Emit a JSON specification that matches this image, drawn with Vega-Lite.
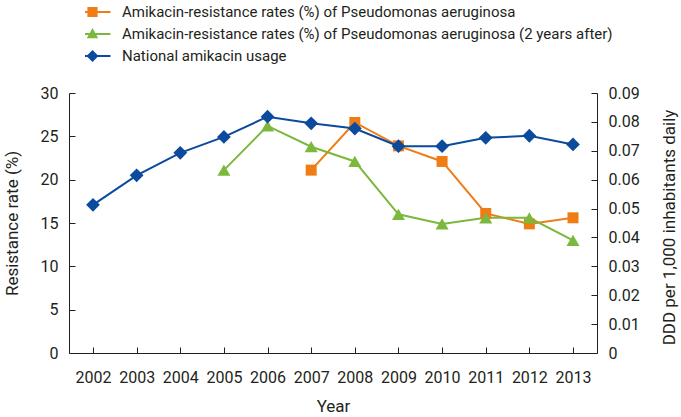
{
  "$schema": "https://vega.github.io/schema/vega-lite/v6.json",
  "width": 528,
  "height": 260,
  "autosize": "none",
  "padding": {"left": 69, "top": 93, "right": 84, "bottom": 64},
  "background": "white",
  "config": {
    "font": "Roboto, sans-serif",
    "view": {"stroke": null},
    "axis": {
      "grid": false,
      "domainColor": "#231f20",
      "domainWidth": 1,
      "tickColor": "#231f20",
      "tickSize": -6,
      "labelColor": "#231f20",
      "labelFontSize": 16,
      "titleColor": "#231f20",
      "titleFontSize": 17,
      "titleFontWeight": "normal"
    },
    "legend": {
      "orient": "none",
      "legendX": 16,
      "legendY": -92,
      "title": null,
      "symbolSize": 144,
      "symbolStrokeWidth": 0,
      "symbolOpacity": 1,
      "labelOffset": 22,
      "labelFontSize": 15,
      "labelColor": "#231f20",
      "labelLimit": 700,
      "rowPadding": 0,
      "clipHeight": 22
    }
  },
  "data": {
    "values": [
      {"year": "2002", "series": "National amikacin usage", "value": 0.0513},
      {"year": "2003", "series": "National amikacin usage", "value": 0.0615},
      {"year": "2004", "series": "National amikacin usage", "value": 0.0693},
      {"year": "2005", "series": "National amikacin usage", "value": 0.0748},
      {"year": "2006", "series": "National amikacin usage", "value": 0.0818},
      {"year": "2007", "series": "National amikacin usage", "value": 0.0795},
      {"year": "2008", "series": "National amikacin usage", "value": 0.0777},
      {"year": "2009", "series": "National amikacin usage", "value": 0.0716},
      {"year": "2010", "series": "National amikacin usage", "value": 0.0716},
      {"year": "2011", "series": "National amikacin usage", "value": 0.0745},
      {"year": "2012", "series": "National amikacin usage", "value": 0.0752},
      {"year": "2013", "series": "National amikacin usage", "value": 0.0722},
      {"year": "2007", "series": "Amikacin-resistance rates (%) of Pseudomonas aeruginosa", "value": 21.1},
      {"year": "2008", "series": "Amikacin-resistance rates (%) of Pseudomonas aeruginosa", "value": 26.6},
      {"year": "2009", "series": "Amikacin-resistance rates (%) of Pseudomonas aeruginosa", "value": 23.9},
      {"year": "2010", "series": "Amikacin-resistance rates (%) of Pseudomonas aeruginosa", "value": 22.1},
      {"year": "2011", "series": "Amikacin-resistance rates (%) of Pseudomonas aeruginosa", "value": 16.1},
      {"year": "2012", "series": "Amikacin-resistance rates (%) of Pseudomonas aeruginosa", "value": 14.9},
      {"year": "2013", "series": "Amikacin-resistance rates (%) of Pseudomonas aeruginosa", "value": 15.6},
      {"year": "2005", "series": "Amikacin-resistance rates (%) of Pseudomonas aeruginosa (2 years after)", "value": 21.1},
      {"year": "2006", "series": "Amikacin-resistance rates (%) of Pseudomonas aeruginosa (2 years after)", "value": 26.2},
      {"year": "2007", "series": "Amikacin-resistance rates (%) of Pseudomonas aeruginosa (2 years after)", "value": 23.8},
      {"year": "2008", "series": "Amikacin-resistance rates (%) of Pseudomonas aeruginosa (2 years after)", "value": 22.1},
      {"year": "2009", "series": "Amikacin-resistance rates (%) of Pseudomonas aeruginosa (2 years after)", "value": 16.0},
      {"year": "2010", "series": "Amikacin-resistance rates (%) of Pseudomonas aeruginosa (2 years after)", "value": 14.9},
      {"year": "2011", "series": "Amikacin-resistance rates (%) of Pseudomonas aeruginosa (2 years after)", "value": 15.6},
      {"year": "2012", "series": "Amikacin-resistance rates (%) of Pseudomonas aeruginosa (2 years after)", "value": 15.6},
      {"year": "2013", "series": "Amikacin-resistance rates (%) of Pseudomonas aeruginosa (2 years after)", "value": 13.0}
    ]
  },
  "encoding": {
    "x": {
      "field": "year",
      "type": "ordinal",
      "scale": {"type": "point", "padding": 0.55},
      "axis": {"title": "Year", "labelAngle": 0, "labelPadding": 22, "titleX": 264, "titleY": 53, "titleBaseline": "middle"}
    }
  },
  "layer": [
    {
      "transform": [{"filter": "datum.series != 'National amikacin usage'"}],
      "encoding": {
        "y": {
          "field": "value",
          "type": "quantitative",
          "scale": {"domain": [0, 30]},
          "axis": {"title": "Resistance rate (%)", "values": [0, 5, 10, 15, 20, 25, 30], "labelPadding": 17, "titleX": -57, "titleY": 130, "titleBaseline": "middle", "titleAngle": -90}
        }
      },
      "layer": [
        {
          "mark": {"type": "line", "strokeWidth": 2},
          "encoding": {
            "stroke": {
              "field": "series",
              "type": "nominal",
              "scale": {
                "domain": ["Amikacin-resistance rates (%) of Pseudomonas aeruginosa", "Amikacin-resistance rates (%) of Pseudomonas aeruginosa (2 years after)", "National amikacin usage"],
                "range": ["#ef7d16", "#7bb83d", "#0b4a9c"]
              }
            }
          }
        },
        {
          "mark": {"type": "point", "filled": true, "opacity": 0, "strokeWidth": 0},
          "encoding": {
            "fill": {
              "field": "series",
              "type": "nominal",
              "scale": {
                "domain": ["Amikacin-resistance rates (%) of Pseudomonas aeruginosa", "Amikacin-resistance rates (%) of Pseudomonas aeruginosa (2 years after)", "National amikacin usage"],
                "range": ["#ef7d16", "#7bb83d", "#0b4a9c"]
              }
            },
            "shape": {
              "field": "series",
              "type": "nominal",
              "scale": {
                "domain": ["Amikacin-resistance rates (%) of Pseudomonas aeruginosa", "Amikacin-resistance rates (%) of Pseudomonas aeruginosa (2 years after)", "National amikacin usage"],
                "range": [
                  "M-3,-0.17H3V0.17H-3Z M-0.85,-0.85H0.85V0.85H-0.85Z",
                  "M-3,-0.17H3V0.17H-3Z M0,-1L0.95,0.7H-0.95Z",
                  "M-3,-0.17H3V0.17H-3Z M0,-1L1,0L0,1L-1,0Z"
                ]
              }
            }
          }
        },
        {
          "transform": [{"filter": "datum.series == 'Amikacin-resistance rates (%) of Pseudomonas aeruginosa'"}],
          "mark": {"type": "point", "filled": true, "opacity": 1, "strokeWidth": 0, "shape": "square", "size": 121, "color": "#ef7d16"}
        },
        {
          "transform": [{"filter": "datum.series == 'Amikacin-resistance rates (%) of Pseudomonas aeruginosa (2 years after)'"}],
          "mark": {"type": "point", "filled": true, "opacity": 1, "strokeWidth": 0, "shape": "triangle-up", "size": 169, "color": "#7bb83d"}
        }
      ]
    },
    {
      "transform": [{"filter": "datum.series == 'National amikacin usage'"}],
      "encoding": {
        "y": {
          "field": "value",
          "type": "quantitative",
          "scale": {"domain": [0, 0.09]},
          "axis": {"orient": "right", "title": "DDD per 1,000 inhabitants daily", "values": [0, 0.01, 0.02, 0.03, 0.04, 0.05, 0.06, 0.07, 0.08, 0.09], "format": ".2~f", "labelPadding": 17, "titleX": 72, "titleY": 134, "titleBaseline": "middle", "titleAngle": -90}
        }
      },
      "layer": [
        {
          "mark": {"type": "line", "strokeWidth": 2},
          "encoding": {
            "stroke": {"field": "series", "type": "nominal"}
          }
        },
        {
          "mark": {"type": "point", "filled": true, "opacity": 1, "strokeWidth": 0, "shape": "diamond", "size": 190, "color": "#0b4a9c"}
        }
      ]
    }
  ],
  "resolve": {"scale": {"y": "independent"}}
}
